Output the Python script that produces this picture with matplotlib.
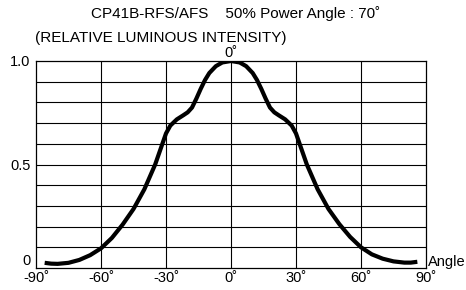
import numpy as np
import matplotlib
matplotlib.use("Agg")
import matplotlib.pyplot as plt

plt.rcParams['font.family'] = ['Liberation Sans', 'DejaVu Sans']

# relative luminous intensity vs. angle
angles = [-86, -83, -80, -75, -70, -65, -60, -55, -50, -45, -40, -35, -32, -30,
          -28, -25, -22, -20, -18, -16, -14, -12, -10, -7, -4, 0,
          4, 7, 10, 12, 14, 16, 18, 20, 22, 25, 28, 30, 32, 35,
          40, 45, 50, 55, 60, 65, 70, 75, 80, 83, 86]
intensity = [0.025, 0.021, 0.020, 0.025, 0.039, 0.062, 0.095, 0.145, 0.210, 0.285,
             0.380, 0.500, 0.590, 0.650, 0.688, 0.718, 0.738, 0.752, 0.775, 0.818,
             0.865, 0.908, 0.942, 0.975, 0.993, 1.000,
             0.993, 0.975, 0.942, 0.908, 0.865, 0.818, 0.775, 0.752, 0.738, 0.718,
             0.688, 0.650, 0.590, 0.500, 0.380, 0.285, 0.212, 0.150, 0.100, 0.066,
             0.045, 0.032, 0.026, 0.026, 0.030]

x_ticks = [-90, -60, -30, 0, 30, 60, 90]
x_labels = ['-90˚', '-60˚', '-30˚', '0˚', '30˚', '60˚', '90˚']
y_ticks = [0, 0.5, 1.0]
y_labels = ['0', '0.5', '1.0']

fig = plt.figure(figsize=(4.66, 2.90), dpi=100)
ax = fig.add_axes([36 / 466, 1 - 268 / 290, 390 / 466, 207 / 290])

ax.plot(angles, intensity, color='black', linewidth=3.0,
        solid_joinstyle='round', solid_capstyle='butt')

ax.set_xlim(-90, 90)
ax.set_ylim(0, 1.0)
for v in np.arange(0.1, 1.0, 0.1):
    ax.axhline(v, color='black', linewidth=0.8, zorder=0)
for a in [-60, -30, 0, 30, 60]:
    ax.axvline(a, color='black', linewidth=0.8, zorder=0)
for s in ax.spines.values():
    s.set_linewidth(0.9)

ax.set_xticks(x_ticks)
ax.set_xticklabels(x_labels)
ax.set_yticks(y_ticks)
ax.set_yticklabels(y_labels)
ax.tick_params(length=0, labelsize=10.5, pad=2)
ax.tick_params(axis='y', pad=4)
ax.get_yticklabels()[0].set_verticalalignment('bottom')

ax.text(0, 1.005, '0˚', ha='center', va='bottom', fontsize=10.5)
ax.text(91, 0.01, 'Angle', ha='left', va='baseline', fontsize=10.5)

fig.text(236 / 466, 1 - 14 / 290, 'CP41B-RFS/AFS    50% Power Angle : 70˚',
         ha='center', va='center', fontsize=11)
fig.text(35 / 466, 1 - 38 / 290, '(RELATIVE LUMINOUS INTENSITY)',
         ha='left', va='center', fontsize=11)

fig.savefig('out.png', dpi=100)
